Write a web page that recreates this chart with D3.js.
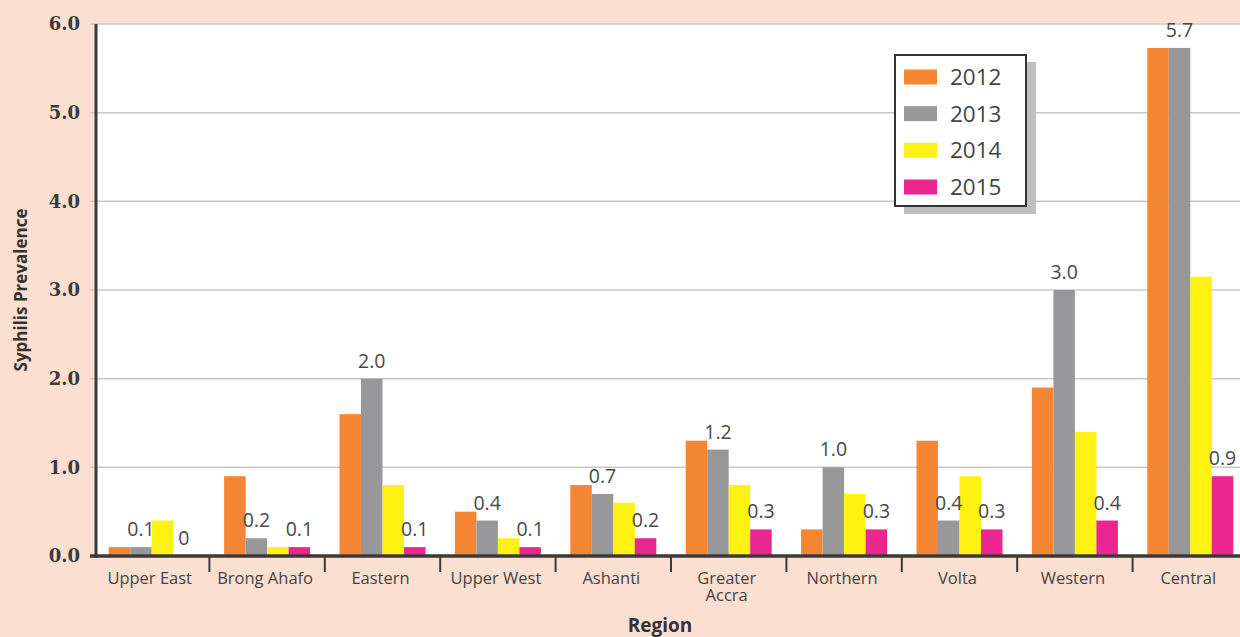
<!DOCTYPE html>
<html>
<head>
<meta charset="utf-8">
<script src="https://cdn.jsdelivr.net/npm/d3@7"></script>
<style>
  html, body { margin: 0; padding: 0; background: #fbdfd0; }
  svg { display: block; }
</style>
</head>
<body>
<svg id="chart" width="1240" height="637"></svg>
<script>
// Syphilis prevalence by region, 2012–2015
const regions = ["Upper East", "Brong Ahafo", "Eastern", "Upper West", "Ashanti",
                 "Greater Accra", "Northern", "Volta", "Western", "Central"];
const years = ["2012", "2013", "2014", "2015"];
const v2012 = [0.1, 0.9, 1.6, 0.5, 0.8, 1.3, 0.3, 1.3, 1.9, 5.73];
const v2013 = [0.1, 0.2, 2.0, 0.4, 0.7, 1.2, 1.0, 0.4, 3.0, 5.73];
const v2014 = [0.4, 0.1, 0.8, 0.2, 0.6, 0.8, 0.7, 0.9, 1.4, 3.15];
const v2015 = [0, 0.1, 0.1, 0.1, 0.2, 0.3, 0.3, 0.3, 0.4, 0.9];
const yTicks = [0, 1, 2, 3, 4, 5, 6];
const colors = ["#f58634", "#98989a", "#fff212", "#ec268f"];
// series that carry value labels
const labelled = ["2013", "2015"];

const series = [v2012, v2013, v2014, v2015];
const svg = d3.select("#chart");

const plotLeft = 96, plotTop = 24, plotBottom = 556;
const x = d3.scaleBand().domain(regions).range([94, 1248]);
const groupW = 86;
const xs = d3.scaleBand().domain(years).range([0, groupW]);
const y = d3.scaleLinear().domain([0, 6]).range([plotBottom, plotTop]);

// white plotting area
svg.append("rect").attr("x", plotLeft).attr("y", plotTop)
  .attr("width", 1240 - plotLeft).attr("height", plotBottom - plotTop).attr("fill", "#ffffff");

// horizontal gridlines with short left ticks
svg.append("g").selectAll("line").data(yTicks).join("line")
  .attr("x1", 90).attr("x2", 1240)
  .attr("y1", d => y(d)).attr("y2", d => y(d))
  .attr("stroke", "#c8c8c8").attr("stroke-width", 1.5);

// y tick labels
svg.append("g").selectAll("text").data(yTicks).join("text")
  .attr("x", 80).attr("y", d => y(d)).attr("dy", "0.35em")
  .attr("text-anchor", "end")
  .attr("font-family", "'DejaVu Serif', serif").attr("font-weight", "bold")
  .attr("font-size", 18).attr("fill", "#3a3a3a")
  .text(d => d.toFixed(1));

// bars
const groups = svg.append("g").selectAll("g").data(regions).join("g")
  .attr("transform", d => `translate(${x(d) + (x.bandwidth() - groupW) / 2},0)`);

groups.selectAll("rect").data((r, i) => years.map((yr, k) => ({yr, k, v: series[k][i]})))
  .join("rect")
  .attr("x", d => xs(d.yr)).attr("width", xs.bandwidth())
  .attr("y", d => y(d.v)).attr("height", d => y(0) - y(d.v))
  .attr("fill", d => colors[d.k]);

// value labels
groups.selectAll("text").data((r, i) => years.map((yr, k) => ({yr, k, v: series[k][i]}))
    .filter(d => labelled.includes(d.yr)))
  .join("text")
  .attr("x", d => xs(d.yr) + xs.bandwidth() / 2)
  .attr("y", d => y(d.v) - 11)
  .attr("text-anchor", "middle")
  .attr("font-family", "'Open Sans', sans-serif").attr("font-size", 19.5)
  .attr("fill", "#484848")
  .text(d => d.v === 0 ? "0" : d.v.toFixed(1));

// axes lines
svg.append("line").attr("x1", plotLeft).attr("x2", plotLeft).attr("y1", plotTop).attr("y2", plotBottom + 2)
  .attr("stroke", "#3a3a3a").attr("stroke-width", 3);
svg.append("line").attr("x1", 90).attr("x2", 1240).attr("y1", plotBottom).attr("y2", plotBottom)
  .attr("stroke", "#3a3a3a").attr("stroke-width", 3.5);

// category separators below the axis
const seps = regions.slice(1).map(r => x(r));
svg.append("g").selectAll("line").data(seps).join("line")
  .attr("x1", d => d).attr("x2", d => d).attr("y1", plotBottom).attr("y2", plotBottom + 16)
  .attr("stroke", "#3a3a3a").attr("stroke-width", 2);

// category labels (wrap two-word names that are too long)
const wrapped = {"Greater Accra": ["Greater", "Accra"]};
svg.append("g").selectAll("text").data(regions).join("text")
  .attr("x", d => x(d) + x.bandwidth() / 2 - 2)
  .attr("y", 584)
  .attr("text-anchor", "middle")
  .attr("font-family", "'Open Sans', sans-serif").attr("font-size", 16.5)
  .attr("fill", "#444")
  .each(function(d) {
    const lines = wrapped[d] || [d];
    d3.select(this).selectAll("tspan").data(lines).join("tspan")
      .attr("x", x(d) + x.bandwidth() / 2 - 2)
      .attr("dy", (l, i) => i === 0 ? 0 : 17)
      .text(l => l);
  });

// axis titles
svg.append("text").attr("x", 660).attr("y", 632).attr("text-anchor", "middle")
  .attr("font-family", "'Open Sans', sans-serif").attr("font-weight", "bold")
  .attr("font-size", 19).attr("fill", "#333").text("Region");
svg.append("text")
  .attr("transform", "translate(27,290) rotate(-90)")
  .attr("text-anchor", "middle")
  .attr("font-family", "'Open Sans', sans-serif").attr("font-weight", "bold")
  .attr("font-size", 17).attr("fill", "#333").text("Syphilis Prevalence");

// legend with drop shadow
const lg = svg.append("g");
lg.append("rect").attr("x", 904).attr("y", 62).attr("width", 132).attr("height", 152)
  .attr("fill", "#bfbfbf");
lg.append("rect").attr("x", 895).attr("y", 55).attr("width", 131).attr("height", 151)
  .attr("fill", "#ffffff").attr("stroke", "#333").attr("stroke-width", 2);
const rowY = d3.scalePoint().domain(years).range([77, 187]);
lg.selectAll("rect.sw").data(years).join("rect").attr("class", "sw")
  .attr("x", 904).attr("y", d => rowY(d) - 7.5).attr("width", 33).attr("height", 15)
  .attr("fill", (d, i) => colors[i]);
lg.selectAll("text").data(years).join("text")
  .attr("x", 950).attr("y", d => rowY(d)).attr("dy", "0.36em")
  .attr("font-family", "'Open Sans', sans-serif").attr("font-size", 22.5)
  .attr("fill", "#444").text(d => d);
</script>
</body>
</html>
